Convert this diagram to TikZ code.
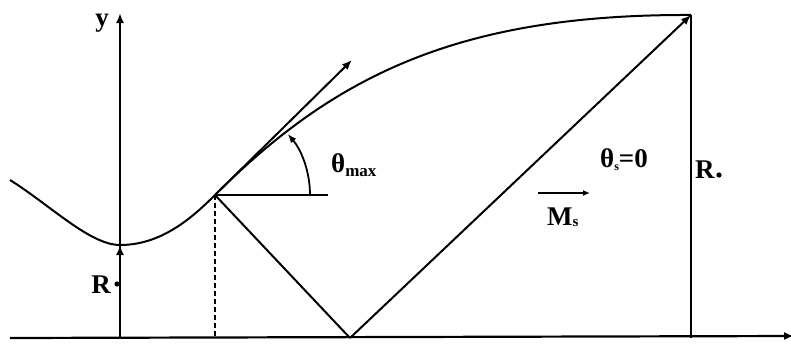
\documentclass[tikz,border=0pt]{standalone}
\usepackage{fontspec}
\setmainfont{Liberation Serif}
\usetikzlibrary{arrows.meta}
\tikzset{
  ln/.style={line width=2pt, black},
  arr/.style={ln, -{Latex[length=10pt,width=8pt]}},
  lbl/.style={font=\fontsize{27}{30}\selectfont\bfseries, inner sep=0pt},
}
\begin{document}
\begin{tikzpicture}[x=1pt,y=-1pt]
\useasboundingbox (0,0) rectangle (791,356);
% key points
\coordinate (gl) at (10,338);
\coordinate (gr) at (794,336);
\coordinate (o) at (120,338);
\coordinate (ytop) at (120,13);
\coordinate (c0) at (10,180);
\coordinate (cmin) at (120,245);
\coordinate (p) at (215,195);
\coordinate (pf) at (215,338);
\coordinate (tang) at (352,60);
\coordinate (h) at (328,195);
\coordinate (v) at (350,338);
\coordinate (top) at (691,15);
\coordinate (rb) at (691,338);
\coordinate (ms1) at (538,193);
\coordinate (ms2) at (590,193);
% ground and axis
\draw[ln, line width=2.2pt, -{Latex[length=10pt,width=8pt]}] (gl) -- (gr);
\draw[arr] (o) -- (ytop);
\node[lbl] (ylab) at (102,23) {y};
% curve
\draw[ln] (c0) .. controls (50,205) and (90,245) .. (cmin)
  .. controls (160,245) and (190,220) .. (p)
  .. controls (335,75) and (460,14) .. (top);
% R arrow left
\draw[arr] (o) -- (cmin);
\node[lbl, anchor=base east] (r0) at (111,293) {R};
\fill (117,284) circle[radius=2.6pt];
% dashed drop
\draw[ln, dash pattern=on 5pt off 3pt] (p) -- (pf);
% tangent
\draw[arr] (p) -- (tang);
\draw[ln] (p) -- (h);
% angle arc
\draw[ln, line width=1.8pt, -{Latex[length=9pt,width=7pt]}] (310,195) arc[start angle=0, end angle=-40, radius=95];
\node[lbl, anchor=base west] (tmax) at (331,172) {θ\raisebox{-4pt}{\fontsize{17}{17}\selectfont max}};
% V lines
\draw[ln] (p) -- (v);
\draw[arr] (v) -- (top);
\draw[ln] (rb) -- (top);
% labels right
\node[lbl, anchor=base west] (ts) at (600,167) {θ\raisebox{-3pt}{\fontsize{12}{12}\selectfont s}=0};
\node[lbl, anchor=base west] (rs) at (695,178) {R};
\fill (719,175) circle[radius=2.6pt];
\draw[ln, line width=1.8pt, -{Latex[length=7pt,width=6pt]}] (ms1) -- (ms2);
\node[lbl, anchor=base west] (ms) at (547,225) {M\raisebox{-1pt}{\fontsize{15}{15}\selectfont s}};
\end{tikzpicture}
\end{document}
